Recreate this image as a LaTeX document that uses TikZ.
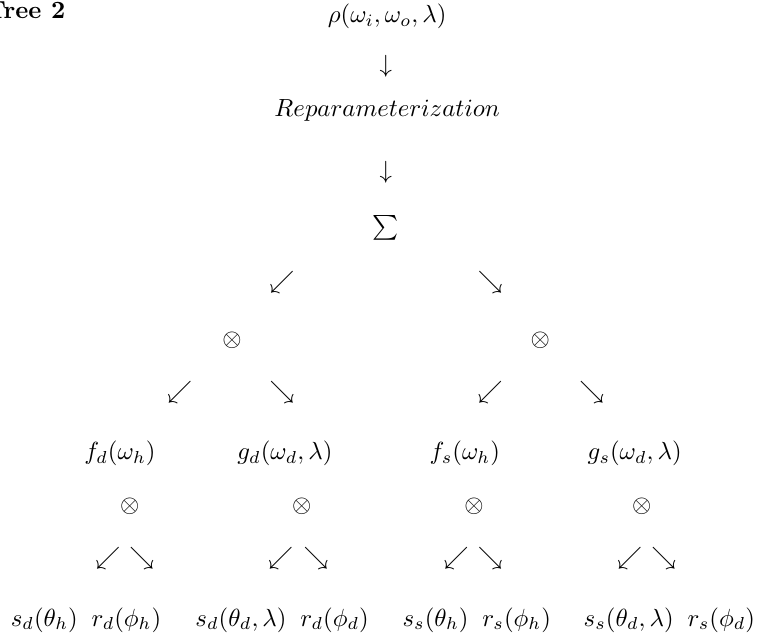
\documentclass[tikz,border=0pt]{standalone}
\usepackage{amsmath}
\usepackage{amssymb}
\usepackage{tikz}

\begin{document}
\begin{tikzpicture}
            \useasboundingbox (0,0) rectangle (10.79,-9.03);

            \node[anchor=base east] (title) at (1.05,-0.26) {\textbf{Tree 2}};

            \node (rho) at (5.49,-0.23) {$\rho(\omega_i,\omega_o,\lambda)$};
            \node (dA) at (5.47,-0.94) {$\downarrow$};
            \node (rep) at (5.49,-1.57) {$Reparameterization$};
            \node (dB) at (5.47,-2.44) {$\downarrow$};
            \node (sum) at (5.47,-3.23) {$\sum$};

            \node (swA) at (4.00,-4.00) {$\swarrow$};
            \node (seA) at (6.95,-4.00) {$\searrow$};

            \node (otd) at (3.29,-4.82) {$\otimes$};
            \node (ots) at (7.66,-4.82) {$\otimes$};

            \node (swB) at (2.55,-5.56) {$\swarrow$};
            \node (seB) at (4.00,-5.56) {$\searrow$};
            \node (swC) at (6.95,-5.56) {$\swarrow$};
            \node (seC) at (8.39,-5.56) {$\searrow$};

            \node (fd) at (1.70,-6.43) {$f_d(\omega_h)$};
            \node (gd) at (4.04,-6.43) {$g_d(\omega_d,\lambda)$};
            \node (fs) at (6.59,-6.43) {$f_s(\omega_h)$};
            \node (gs) at (9.00,-6.43) {$g_s(\omega_d,\lambda)$};

            \node (otfd) at (1.84,-7.18) {$\otimes$};
            \node (otgd) at (4.28,-7.18) {$\otimes$};
            \node (otfs) at (6.72,-7.18) {$\otimes$};
            \node (otgs) at (9.10,-7.18) {$\otimes$};

            \node (swfd) at (1.53,-7.92) {$\swarrow$};
            \node (sefd) at (2.01,-7.92) {$\searrow$};
            \node (swgd) at (3.98,-7.92) {$\swarrow$};
            \node (segd) at (4.48,-7.92) {$\searrow$};
            \node (swfs) at (6.47,-7.92) {$\swarrow$};
            \node (sefs) at (6.95,-7.92) {$\searrow$};
            \node (swgs) at (8.93,-7.92) {$\swarrow$};
            \node (segs) at (9.41,-7.92) {$\searrow$};

            \node (sfd) at (1.22,-8.79) {$s_d(\theta_h)\;\;r_d(\phi_h)$};
            \node (sgd) at (4.00,-8.79) {$s_d(\theta_d,\lambda)\;\;r_d(\phi_d)$};
            \node (sfs) at (6.76,-8.79) {$s_s(\theta_h)\;\;r_s(\phi_h)$};
            \node (sgs) at (9.49,-8.79) {$s_s(\theta_d,\lambda)\;\;r_s(\phi_d)$};
        \end{tikzpicture}
\end{document}
